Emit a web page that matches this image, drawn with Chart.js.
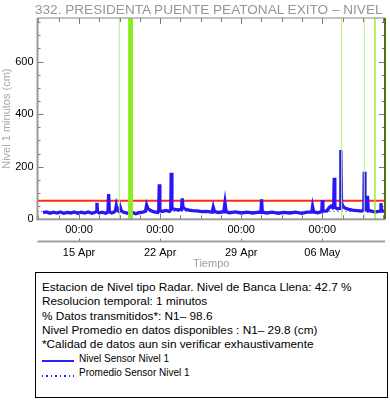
<!DOCTYPE html>
<html>
<head>
<meta charset="utf-8">
<script src="https://cdn.jsdelivr.net/npm/chart.js@4.4.1/dist/chart.umd.min.js"></script>
<style>
  html, body { margin: 0; padding: 0; background: #fff; }
  body { width: 390px; height: 404px; position: relative; overflow: hidden; font-family: "Liberation Sans", Arial, sans-serif; }
  #wrap { position: absolute; left: 0; top: 0; width: 390px; height: 272px; }
  #title { position: absolute; left: 35px; top: 1px; font-size: 13.6px; line-height: 17px; color: #969696; white-space: nowrap; }
  #info { position: absolute; left: 35px; top: 272px; width: 345px; height: 117px; border: 1px solid #000;
          padding: 6.8px 0 0 6px; font-size: 11.8px; line-height: 14.4px; color: #000; }
  #info div { white-space: nowrap; height: 14.4px; }
  .leg { font-size: 10px; display: flex; align-items: center; }
  .leg span.ln { display: inline-block; width: 32px; height: 2px; margin: 5px 5px 0 0; background: #2424ff; }
  .leg span.dot { background: repeating-linear-gradient(to right, #2424ff 0 1.5px, transparent 1.5px 4.5px); }
</style>
</head>
<body>
<div id="wrap"><canvas id="nivelChart"></canvas></div>
<div id="title">332. PRESIDENTA PUENTE PEATONAL EXITO – NIVEL</div>
<div id="info">
  <div>Estacion de Nivel tipo Radar. Nivel de Banca Llena: 42.7 %</div>
  <div>Resolucion temporal: 1 minutos</div>
  <div>% Datos transmitidos*: N1– 98.6</div>
  <div>Nivel Promedio en datos disponibles : N1– 29.8 (cm)</div>
  <div>*Calidad de datos aun sin verificar exhaustivamente</div>
  <div class="leg"><span class="ln"></span>Nivel Sensor Nivel 1</div>
  <div class="leg"><span class="ln dot"></span>Promedio Sensor Nivel 1</div>
</div>
<script>
// time in days from 15 Apr 00:00
const days = [
  -3.1, -2.8, -2.5, -2.2, -1.9, -1.6, -1.3, -1.0, -0.7, -0.4, -0.1, 0.2, 0.5, 0.8, 1.1, 1.4,
  1.5, 1.55, 1.6, 1.75, 2.0, 2.3, 2.5, 2.56, 2.62, 2.8, 3.0, 3.15, 3.22, 3.3, 3.45, 3.56, 3.65, 3.8,
  4.0, 4.3, 4.6, 4.9, 5.2, 5.5, 5.75, 5.84, 5.95, 6.1, 6.3, 6.5, 6.8, 6.88, 6.93, 6.98,
  7.2, 7.5, 7.8, 7.92, 7.96, 8.02, 8.3, 8.6, 8.85, 8.91, 8.98, 9.2, 9.5, 9.8, 10.2, 10.6,
  11.0, 11.5, 11.59, 11.7, 12.0, 12.5, 12.6, 12.7, 13.0, 13.5, 14.0, 14.5, 15.0, 15.5, 15.7, 15.76, 15.82,
  16.2, 16.7, 17.2, 17.7, 18.2, 18.7, 19.2, 19.7, 20.1, 20.16, 20.25, 20.6, 20.95, 21.0, 21.05,
  21.4, 21.6, 21.75, 21.9, 21.98, 22.03, 22.08, 22.3, 22.55, 22.6, 22.66, 22.8, 23.0, 23.3, 23.6,
  24.0, 24.4, 24.58, 24.62, 24.68, 24.85, 24.9, 24.96, 25.2, 25.6, 26.0, 26.06, 26.12, 26.4
];
const level = [
  25, 28, 23, 27, 24, 28, 23, 26, 24, 28, 23, 27, 24, 28, 23, 27,
  30, 63, 29, 24, 27, 23, 28, 96, 29, 24, 27, 33, 51, 35, 30, 46, 33, 28,
  25, 22, 26, 21, 25, 27, 31, 54, 41, 36, 31, 28, 26, 31, 133, 33,
  30, 34, 30, 35, 177, 41, 38, 36, 38, 80, 45, 38, 35, 33, 32, 29,
  30, 27, 46, 29, 26, 29, 63, 28, 25, 28, 24, 27, 24, 27, 26, 76, 27,
  24, 27, 23, 26, 24, 27, 23, 27, 28, 48, 28, 25, 29, 73, 31,
  32, 45, 50, 44, 50, 158, 46, 40, 42, 264, 62, 48, 42, 38, 35,
  33, 31, 36, 181, 41, 35, 89, 36, 31, 28, 31, 61, 32, 30
];
const bancaLlena = 71;      // cm, red line
const promedio = 29.8;      // cm
const xRange = [-3.58, 26.41];
const yRange = [0, 766];
const majorDays = [0, 7, 14, 21];
const dateLabels = ["15 Apr", "22 Apr", "29 Apr", "06 May"];
const yTicks = [0, 200, 400, 600];
const markThin = [3.48, 22.67, 24.62];
const markWide = [[4.24, 4.66], [25.48, 25.6]];

const series = days.map((d, i) => ({ x: d, y: level[i] }));
const flat = (v) => [{ x: xRange[0], y: v }, { x: xRange[1], y: v }];

// inward ticks, frame, event marks
const framePlugin = {
  id: "frame",
  afterDatasetsDraw(chart) {
    const { ctx, chartArea: a, scales: { x, y, x2 } } = chart;
    ctx.save();
    markThin.forEach(d => {
      const px = x.getPixelForValue(d);
      ctx.fillStyle = "#b4f27a";
      ctx.fillRect(px - 0.5, a.top, 1, a.bottom - a.top);
    });
    markWide.forEach(([d0, d1]) => {
      const p0 = x.getPixelForValue(d0), p1 = x.getPixelForValue(d1);
      ctx.fillStyle = "#8ced1c";
      ctx.fillRect(p0, a.top, p1 - p0, a.bottom - a.top);
    });

    ctx.strokeStyle = "#7a7a7a";
    ctx.lineWidth = 1;
    ctx.beginPath();
    for (let v = 0; v <= yRange[1]; v += 50) {
      const py = Math.round(y.getPixelForValue(v)) + 0.5;
      const len = v % 200 === 0 ? 6 : 3;
      ctx.moveTo(a.left, py); ctx.lineTo(a.left + len, py);
      ctx.moveTo(a.right, py); ctx.lineTo(a.right - len, py);
    }
    for (let d = majorDays[0]; d >= xRange[0]; d -= 1.75) addX(d);
    for (let d = majorDays[0] + 1.75; d <= xRange[1]; d += 1.75) addX(d);
    function addX(d) {
      const px = Math.round(x.getPixelForValue(d)) + 0.5;
      const len = Math.abs(d % 7) < 1e-6 ? 6 : 4;
      ctx.moveTo(px, a.top); ctx.lineTo(px, a.top + len);
      ctx.moveTo(px, a.bottom); ctx.lineTo(px, a.bottom - len);
    }
    // second time axis line
    const ly = Math.round(x2.top) + 0.5;
    majorDays.forEach(d => {
      const px = Math.round(x2.getPixelForValue(d)) + 0.5;
      ctx.moveTo(px, ly); ctx.lineTo(px, ly - 3);
    });
    ctx.stroke();

    ctx.fillStyle = "#a0a0a0";
    ctx.fillRect(a.left, ly - 1, a.right - a.left, 2);

    // frame
    ctx.fillStyle = "#9a9a9a";
    ctx.fillRect(a.left - 1, a.top, 2, a.bottom - a.top + 1);
    ctx.fillRect(a.left - 1, a.bottom - 1, a.right - a.left + 1, 2);
    ctx.fillStyle = "#888";
    ctx.fillRect(a.left, a.top - 0.5, a.right - a.left, 1);
    ctx.fillStyle = "#4f6f1a";
    ctx.fillRect(a.right - 1, a.top, 2, a.bottom - a.top);
    ctx.restore();
  }
};

const tickFont = { family: "'Liberation Sans', Arial, sans-serif", size: 11 };

new Chart(document.getElementById("nivelChart"), {
  type: "line",
  data: {
    datasets: [
      { label: "Nivel Sensor Nivel 1", data: series, borderColor: "#2a16f5", borderWidth: 3.3, pointRadius: 0, tension: 0, order: 1 },
      { label: "Banca llena", data: flat(bancaLlena), borderColor: "#ff2a10", borderWidth: 2, pointRadius: 0, order: 2 },
      { label: "Promedio Sensor Nivel 1", data: flat(promedio), borderColor: "#2a16f5", borderWidth: 1, borderDash: [1, 3], pointRadius: 0, order: 3 }
    ]
  },
  options: {
    responsive: true,
    maintainAspectRatio: false,
    animation: false,
    layout: { padding: { left: 0, right: 5, top: 18, bottom: 0 } },
    plugins: { legend: { display: false }, tooltip: { enabled: false } },
    scales: {
      x: {
        type: "linear", position: "bottom", min: xRange[0], max: xRange[1],
        afterBuildTicks: (s) => { s.ticks = majorDays.map(v => ({ value: v })); },
        afterFit: (s) => { s.height = 22; },
        grid: { display: false, drawTicks: false }, border: { display: false },
        ticks: { color: "#000", font: tickFont, padding: 4, maxRotation: 0, autoSkip: false, callback: () => "00:00" }
      },
      x2: {
        type: "linear", position: "bottom", min: xRange[0], max: xRange[1],
        afterBuildTicks: (s) => { s.ticks = majorDays.map(v => ({ value: v })); },
        afterFit: (s) => { s.height = 30.7; },
        grid: { display: false, drawTicks: false }, border: { display: false },
        ticks: { color: "#000", font: tickFont, padding: 5, maxRotation: 0, autoSkip: false,
                 callback: (v) => dateLabels[majorDays.indexOf(v)] },
        title: { display: true, text: "Tiempo", color: "#a0a0a0", font: tickFont, padding: { top: 0, bottom: 1.4 } }
      },
      y: {
        min: yRange[0], max: yRange[1],
        afterBuildTicks: (s) => { s.ticks = yTicks.map(v => ({ value: v })); },
        afterFit: (s) => { s.width = 37.5; },
        grid: { display: false, drawTicks: false }, border: { display: false },
        ticks: { color: "#000", font: tickFont, padding: 4 },
        title: { display: true, text: "Nivel 1 minutos (cm)", color: "#a8a8a8", font: tickFont, padding: { top: 0, bottom: 0 } }
      }
    }
  },
  plugins: [framePlugin]
});
</script>
</body>
</html>
